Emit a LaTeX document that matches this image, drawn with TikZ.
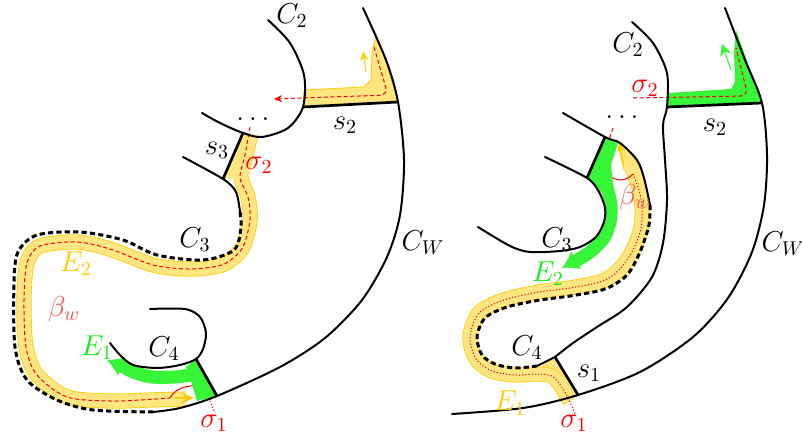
\documentclass[tikz,border=0pt]{standalone}
\usetikzlibrary{arrows.meta}
\definecolor{bandyellow}{RGB}{255,230,128}
\definecolor{bandgold}{RGB}{255,204,0}
\definecolor{bandgreen}{RGB}{55,245,55}
\definecolor{labgreen}{RGB}{20,235,20}
\definecolor{myred}{RGB}{255,0,0}
\definecolor{betared}{RGB}{255,80,80}
\tikzset{
  curve/.style={line width=1pt, line join=round, line cap=round},
  seg/.style={line width=1.35pt},
  dashcurve/.style={line width=1.5pt, dash pattern=on 2.6pt off 1.6pt},
  yband/.style={draw=bandyellow, line width=6.8pt, preaction={draw=bandgold, line width=7.6pt}},
  gband/.style={draw=bandgreen, line width=6.5pt},
  garrow/.style={draw=bandgreen, fill=bandgreen, line width=0.5pt, -{Latex[length=8pt,width=10pt]}},
  rdash/.style={draw=myred, line width=0.5pt, dash pattern=on 2pt off 1.3pt},
  rdot/.style={draw=myred, line width=0.5pt, dash pattern=on 0.6pt off 1pt},
  lab/.style={font=\fontsize{14}{16}\selectfont, inner sep=0pt}
}
\begin{document}
\begin{tikzpicture}[x=0.5pt, y=-0.5pt]
\path[use as bounding box] (0,0) rectangle (802,437);

% ================= LEFT PANEL =================
% yellow band along s2 and C_W
\filldraw[fill=bandyellow, draw=bandgold, line width=0.4pt]
  (304,90) -- (364,87) -- (371,80) -- (372,52) -- (376,36) -- (386,62) -- (392,82) -- (398,102) -- (303,107) -- cycle;
\draw[bandgold, line width=0.5pt, -{Stealth[length=5pt,width=4pt]}] (366,72) -- (363,51);
\draw[rdash, rounded corners=4pt, -{Stealth[length=4pt,width=3.5pt]}] (374,47) -- (388,95) -- (274,99);

% main yellow band E2
\draw[yband] plot[smooth] coordinates {(251,134) (245,160) (241,178) (248,197) (250,220) (243,247) (228,262) (213,267) (187,269) (153,265) (110,249) (77,242) (40,246) (27,263) (24,300) (26,347) (37,375) (67,397) (110,401) (150,400) (186,399)};
\fill[bandyellow] (243,133) -- (256,137) -- (249,176) -- (223,179) -- cycle;
\draw[bandgold, line width=0.6pt, -{Stealth[length=6pt,width=5pt]}] (175,398) -- (194,398);
\draw[rdash] plot[smooth] coordinates {(250,127) (245,155) (240,178) (248,197) (250,220) (243,247) (228,262) (213,267) (187,269) (153,265) (110,249) (77,242) (40,246) (27,263) (24,300) (26,347) (37,375) (67,397) (110,401) (140,400) (170,398)};
\draw[myred, line width=0.5pt] (170,398) .. controls (176,386) and (197,381) .. (206,392);
\draw[rdot] (206,392) -- (215,413);

% green band E1
\fill[bandgreen] (196,359) -- (217,396) -- (197,401) -- (191,381) -- (186,367) -- cycle;
\draw[gband] plot[smooth] coordinates {(197,374) (175,377) (152,377) (133,372) (119,364)};
\draw[garrow] (128,369) -- (107,360);

% black curves
\draw[curve] plot[smooth] coordinates {(363,8) (386,60) (398,102) (404,160) (400,215) (387,257) (362,300) (325,338) (280,367) (217,396) (180,408) (153,412)};
\draw[curve] plot[smooth] coordinates {(268,20) (290,43) (304,75) (303,107) (288,128) (262,137) (243,133) (220,123) (202,113)};
\draw[seg] (303,107) -- (398,102);
\draw[seg] (243,133) -- (223,179);
\draw[curve] plot[smooth] coordinates {(183,157) (223,179) (236,192) (240,212)};
\draw[dashcurve] plot[smooth] coordinates {(240,212) (241,228) (234,250) (203,260) (157,255) (123,240) (80,232) (37,235) (18,252) (14,283) (15,347) (27,380) (57,400) (93,410) (153,412)};
\draw[curve] plot[smooth] coordinates {(150,309) (185,309) (200,317) (206,333) (203,349) (196,359) (180,365) (157,368) (133,365) (120,355) (110,343)};
\draw[seg] (196,359) -- (217,396);

% labels
\node[lab] (c2l) at (292,16) {$C_2$};
\node[lab] (dotsl) at (253,119) {$\ldots$};
\node[lab] (s2l) at (345,125) {$s_2$};
\node[lab] (s3l) at (217,150) {$s_3$};
\node[lab, text=myred] (sig2l) at (259,165) {$\sigma_2$};
\node[lab] (c3l) at (195,240) {$C_3$};
\node[lab] (cwl) at (423,243) {$C_W$};
\node[lab, text=bandgold] (e2l) at (76,264) {$E_2$};
\node[lab, text=betared] (betal) at (64,309) {$\beta_w$};
\node[lab, text=labgreen] (e1l) at (97,348) {$E_1$};
\node[lab] (c4l) at (164,349) {$C_4$};
\node[lab, text=myred] (sig1l) at (214,423) {$\sigma_1$};

% ================= RIGHT PANEL =================
% green band along s2 and C_W
\fill[bandgreen] (668,93) -- (731,89) -- (735,82) -- (734,52) -- (736,30) -- (746,58) -- (755,82) -- (762,103) -- (667,107) -- cycle;
\draw[bandgreen, line width=0.5pt, -{Stealth[length=6pt,width=6pt]}] (731,70) -- (722,44);
\draw[rdash, rounded corners=4pt] (633,98) -- (748,96) -- (736,48);

% yellow band E1
\fill[bandyellow] (542,364) -- (555,357) -- (568,378) -- (545,372) -- cycle;
\draw[yband] plot[smooth] coordinates {(632,168) (639,188) (642,207) (641,228) (633,250) (620,269) (603,281) (570,288) (539,292) (504,300) (479,313) (470,337) (476,359) (492,371) (515,375) (537,374) (552,376) (561,386) (566,395) (570,401)};
\fill[bandyellow] (619,149) -- (627,148) -- (640,168) -- (624,171) -- cycle;
\draw[bandgold, line width=0.4pt] (627,148) -- (640,167);
\draw[bandgold, line width=0.4pt] (619,149) -- (624,170);
\draw[bandgold, line width=0.5pt, -{Stealth[length=5pt,width=4pt]}] (624,165) -- (619,142);

% red path
\draw[rdash] (613,128) -- (600,167);
\draw[myred, line width=0.5pt] (600,167) .. controls (608,178) and (622,186) .. (633,174);
\draw[rdot] plot[smooth] coordinates {(633,174) (639,190) (642,207) (641,228) (633,250) (620,269) (603,281) (570,288) (539,292) (504,300) (479,313) (470,337) (476,359) (492,371) (515,375) (537,374) (552,376) (561,386) (568,398) (576,416)};

% green band E2
\fill[bandgreen] (605,137) -- (618,143) -- (611,165) -- (613,185) -- (600,192) -- (587,178) -- cycle;
\draw[gband] plot[smooth] coordinates {(606,183) (611,205) (610,222) (604,238) (590,252) (574,262)};
\draw[garrow] (582,257) -- (562,268);

% black curves
\draw[curve] plot[smooth] coordinates {(725,8) (745,60) (762,103) (767,155) (764,205) (752,252) (728,298) (693,337) (640,372) (578,395) (523,408) (452,414)};
\draw[curve] plot[smooth] coordinates {(632,22) (653,43) (667,73) (667,107) (663,125) (665,160) (667,200) (663,243) (652,277) (627,307) (597,327) (573,343) (555,357)};
\draw[seg] (667,107) -- (762,103);
\draw[seg] (555,357) -- (578,395);
\draw[seg] (587,178) -- (605,137);
\draw[curve] plot[smooth] coordinates {(545,157) (587,178) (599,192) (605,208) (604,222) (596,237) (580,247) (560,251) (530,252) (510,246) (478,227)};
\draw[curve] plot[smooth] coordinates {(563,113) (605,137) (620,143) (637,160) (644,178) (650,205)};
\draw[dashcurve] plot[smooth] coordinates {(650,205) (649,225) (640,252) (627,275) (605,289) (570,296) (540,300) (507,307) (485,318) (477,337) (482,355) (495,364) (515,368) (537,366)};
\draw[curve] (537,366) -- (555,357);

% labels
\node[lab] (c2r) at (628,45) {$C_2$};
\node[lab, text=myred] (sig2r) at (645,88) {$\sigma_2$};
\node[lab] (dotsr) at (622,117) {$\ldots$};
\node[lab] (s2r) at (715,127) {$s_2$};
\node[lab, text=betared] (betar) at (635,197) {$\beta_w$};
\node[lab] (c3r) at (557,240) {$C_3$};
\node[lab, text=labgreen] (e2r) at (548,274) {$E_2$};
\node[lab] (cwr) at (783,244) {$C_W$};
\node[lab] (c4r) at (527,348) {$C_4$};
\node[lab] (s1r) at (589,373) {$s_1$};
\node[lab, text=bandgold] (e1r) at (510,403) {$E_1$};
\node[lab, text=myred] (sig1r) at (574,423) {$\sigma_1$};
\end{tikzpicture}
\end{document}
